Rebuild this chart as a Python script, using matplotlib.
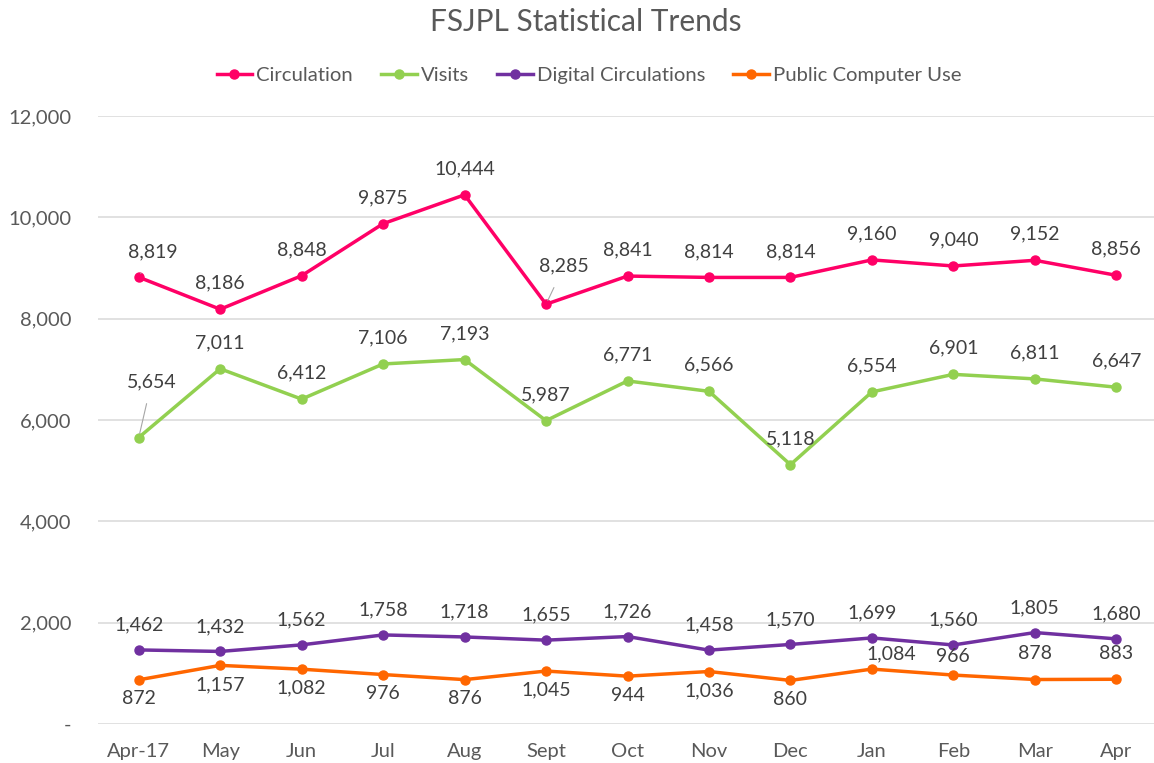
import matplotlib
matplotlib.use("Agg")
import matplotlib.pyplot as plt
from matplotlib.ticker import FuncFormatter, MultipleLocator
from matplotlib.lines import Line2D

plt.rcParams['font.family'] = ['Lato', 'DejaVu Sans']

months = ["Apr-17", "May", "Jun", "Jul", "Aug", "Sept", "Oct", "Nov", "Dec", "Jan", "Feb", "Mar", "Apr"]
circulation = [8819, 8186, 8848, 9875, 10444, 8285, 8841, 8814, 8814, 9160, 9040, 9152, 8856]
visits = [5654, 7011, 6412, 7106, 7193, 5987, 6771, 6566, 5118, 6554, 6901, 6811, 6647]
digital = [1462, 1432, 1562, 1758, 1718, 1655, 1726, 1458, 1570, 1699, 1560, 1805, 1680]
public_pc = [872, 1157, 1082, 976, 876, 1045, 944, 1036, 860, 1084, 966, 878, 883]

series = [
    ("Circulation", circulation, "#FF0066"),
    ("Visits", visits, "#92D050"),
    ("Digital Circulations", digital, "#7030A0"),
    ("Public Computer Use", public_pc, "#FF6600"),
]

TXT = "#595959"
LBL = "#404040"

W, H = 1154, 763
fig = plt.figure(figsize=(W / 100, H / 100), dpi=100)
ax = fig.add_axes([98 / W, 1 - 724 / H, (1157 - 98) / W, (724 - 116) / H])

x = list(range(len(months)))
for name, vals, col in series:
    ax.plot(x, vals, color=col, lw=2.5, marker='o', ms=6.5, label=name,
            solid_capstyle='round', zorder=3)

ax.set_xlim(-0.5, len(months) - 0.5)
ax.set_ylim(0, 12000)
ax.yaxis.set_major_locator(MultipleLocator(2000))
ax.yaxis.set_major_formatter(FuncFormatter(lambda v, p: "-" if v == 0 else f"{int(v):,}"))
ax.set_xticks(x)
ax.set_xticklabels(months)
ax.grid(axis='y', color='#D9D9D9', lw=1.1)
ax.set_axisbelow(True)
for s in ax.spines.values():
    s.set_visible(False)
ax.tick_params(axis='both', length=0, colors=TXT, labelsize=14.5)
ax.tick_params(axis='y', pad=19)
ax.tick_params(axis='x', pad=14)

PX = 0.72  # points per pixel at 100 dpi

def lab(xi, v, dx_px, dy_px, leader=False):
    kw = {}
    if leader:
        kw['arrowprops'] = dict(arrowstyle='-', color='#A6A6A6', lw=0.8,
                                shrinkA=8, shrinkB=3)
    ax.annotate(f"{v:,}", (xi, v), xytext=(dx_px * PX, dy_px * PX),
                textcoords='offset points', ha='center', va='center',
                fontsize=14, color=LBL, zorder=4, **kw)

# Circulation labels (above)
for i, v in enumerate(circulation):
    if i == 0:
        lab(i, v, 14, 25, leader=True)
    elif i == 5:
        lab(i, v, 18, 38, leader=True)
    else:
        lab(i, v, 0, 26)

# Visits labels (above)
for i, v in enumerate(visits):
    if i == 0:
        lab(i, v, 13, 56, leader=True)
    else:
        lab(i, v, 0, 26)

# Digital labels (above)
for i, v in enumerate(digital):
    lab(i, v, 0, 25)

# Public computer use labels: below for first nine, above for last four
pc_above = {9: (19, 15), 10: (0, 19), 11: (0, 26), 12: (0, 26)}
for i, v in enumerate(public_pc):
    if i in pc_above:
        lab(i, v, *pc_above[i])
    else:
        lab(i, v, 0, -19)

fig.text(586 / W, 1 - 22 / H, "FSJPL Statistical Trends", ha='center', va='center',
         fontsize=21.5, color=TXT)

handles = [Line2D([0], [0], color=c, lw=2.5, marker='o', ms=6.5) for _, _, c in series]
fig.legend(handles, [n for n, _, _ in series], loc='center', ncol=4,
           bbox_to_anchor=(589 / W, 1 - 75 / H), frameon=False, fontsize=14.6,
           handlelength=1.75, handletextpad=0.2, columnspacing=1.4,
           labelcolor=TXT)

fig.savefig("out.png", dpi=100, facecolor='white')
